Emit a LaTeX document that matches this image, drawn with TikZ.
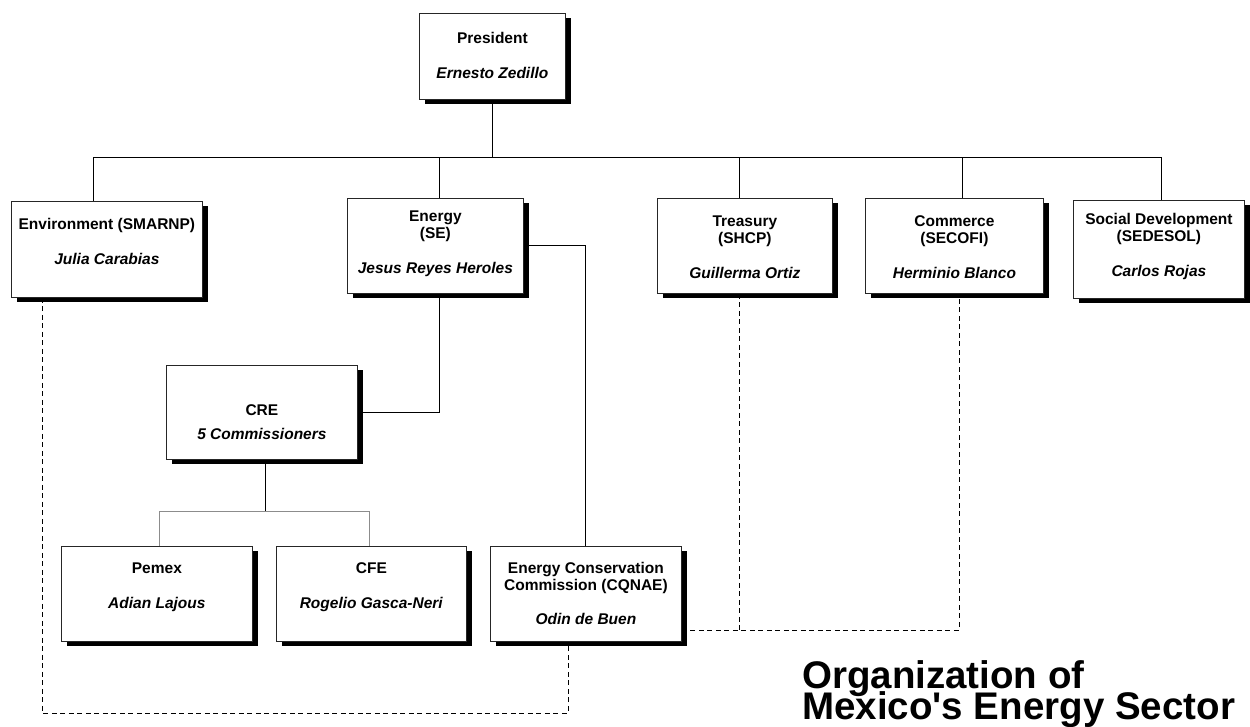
\documentclass[tikz,border=0pt]{standalone}
\usepackage{fontspec}
\setmainfont{Liberation Sans}
\usetikzlibrary{shadows}
\newcommand\orgtxt[4]{\parbox[c][#2pt][t]{#1pt}{\centering\vspace*{#3pt}\strut #4}}
\newcommand\nm[1]{\textit{#1}}
\begin{document}
\begin{tikzpicture}[x=1pt,y=-1pt,
  orgbox/.style={draw=black!85, line width=0.8pt, fill=white, inner sep=0pt, anchor=north west,
    font=\fontsize{15.5}{17.5}\selectfont\bfseries,
    drop shadow={shadow xshift=6pt, shadow yshift=-5pt, opacity=1, fill=black}},
  conn/.style={draw=black, line width=1pt},
  gconn/.style={draw=black!45, line width=1pt},
  dashconn/.style={draw=black, line width=0.9pt, dash pattern=on 5pt off 3.5pt},
  titletext/.style={anchor=north west, align=left, inner sep=0pt,
    font={\fontsize{38.5}{31}\selectfont\bfseries\lineskiplimit=-40pt}}]
\useasboundingbox (0,0) rectangle (1250,727);
% coordinates for connector bends
\coordinate (busL) at (93,158);
\coordinate (busR) at (1161,158);
\coordinate (dE) at (439,158);
\coordinate (dT) at (739,158);
\coordinate (dC) at (962,158);
\coordinate (ecre) at (439,412);
\coordinate (subM) at (265,511);
\coordinate (subL) at (159,511);
\coordinate (subR) at (369,511);
\coordinate (dh) at (959,630);
\coordinate (dt) at (739,630);
\coordinate (dl) at (42,713);
\coordinate (dr) at (568,713);

% boxes
\node[orgbox] (pres) at (419,13) {\orgtxt{146}{86}{17.75}{President\\[17.5pt]\nm{Ernesto Zedillo}}};
\node[orgbox] (env) at (11,201) {\orgtxt{191}{96}{15.75}{Environment (SMARNP)\\[17.5pt]\nm{Julia Carabias}}};
\node[orgbox] (energy) at (347,198) {\orgtxt{176}{95}{10.75}{Energy\\(SE)\\[17.5pt]\nm{Jesus Reyes Heroles}}};
\node[orgbox] (treasury) at (657,198) {\orgtxt{175}{95}{15.75}{Treasury\\(SHCP)\\[17.5pt]\nm{Guillerma Ortiz}}};
\node[orgbox] (commerce) at (865,198) {\orgtxt{178}{95}{15.75}{Commerce\\(SECOFI)\\[17.5pt]\nm{Herminio Blanco}}};
\node[orgbox] (social) at (1073,200) {\orgtxt{171}{98}{11.75}{Social Development\\(SEDESOL)\\[17.5pt]\nm{Carlos Rojas}}};
\node[orgbox] (cre) at (166,365) {\orgtxt{191}{94}{37.75}{CRE\\[6.5pt]\nm{5 Commissioners}}};
\node[orgbox] (pemex) at (61,546) {\orgtxt{191}{95}{14.75}{Pemex\\[17.5pt]\nm{Adian Lajous}}};
\node[orgbox] (cfe) at (276,546) {\orgtxt{190}{95}{14.75}{CFE\\[17.5pt]\nm{Rogelio Gasca-Neri}}};
\node[orgbox] (cqnae) at (490,546) {\orgtxt{191}{95}{14.75}{Energy Conservation\\Commission (CQNAE)\\[16.5pt]\nm{Odin de Buen}}};

% solid connectors
\draw[conn] (pres.south) -- (pres.south |- busL);
\draw[conn] (env.north -| busL) -- (busL) -- (busR) -- (social.north -| busR);
\draw[conn] (dE) -- (energy.north -| dE);
\draw[conn] (dT) -- (treasury.north -| dT);
\draw[conn] (dC) -- (commerce.north -| dC);
\draw[conn] (energy.south -| ecre) |- (cre.east);
\draw[conn] (energy.east) -| (cqnae.north);
\draw[conn] (cre.south -| subM) -- (subM);
\draw[gconn] (pemex.north -| subL) -- (subL) -- (subR) -- (cfe.north -| subR);

% dashed connectors
\draw[dashconn] (cqnae.east |- dh) -- (dh) -- (commerce.south -| dh);
\draw[dashconn] (treasury.south -| dt) -- (dt);
\draw[dashconn] (env.south -| dl) -- (dl) -- (dr) -- (cqnae.south -| dr);

% title
\node[titletext] (title) at (802,660) {Organization of\\Mexico\textquotesingle s Energy Sector};
\end{tikzpicture}
\end{document}
